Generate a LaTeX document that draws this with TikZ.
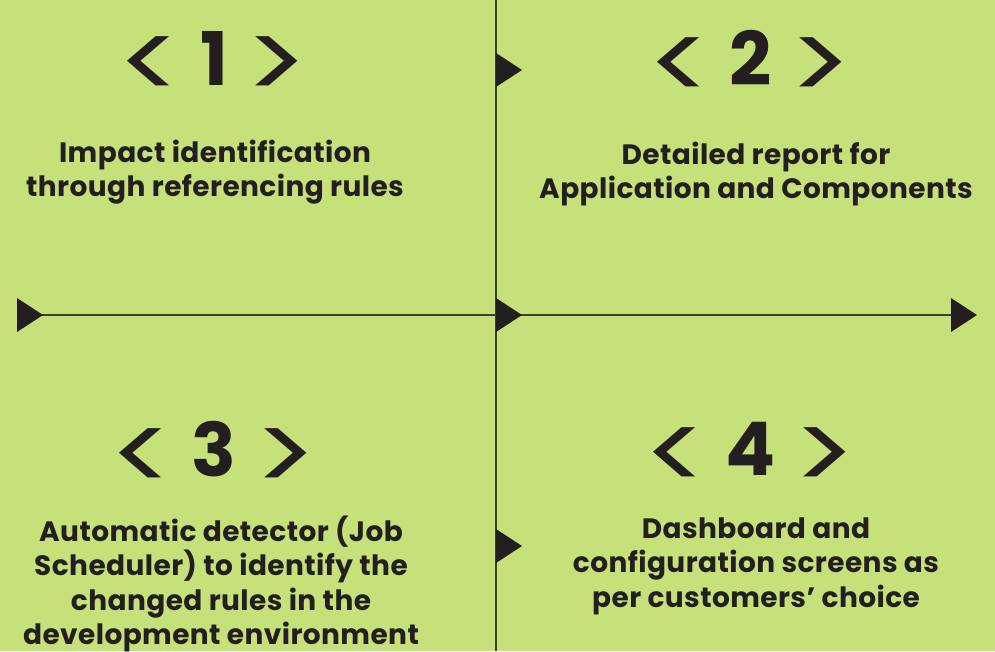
\documentclass[tikz,border=0pt]{standalone}
\usepackage{fontspec}
\usepackage{graphicx}
\setmainfont{Poppins}[LetterSpace = 1.5]
\definecolor{bgcol}{HTML}{C6E07A}
\definecolor{inkcol}{HTML}{231F20}
\definecolor{linecol}{HTML}{3C4226}
\newcommand{\chev}[1]{\raisebox{-0.21em}{\scalebox{1.6}[1.45]{\mdseries #1}}}
\tikzset{
	num/.style = {inner sep = 0, text = inkcol, font = \fontsize{74}{74}\selectfont\bfseries},
	desc/.style = {inner sep = 0, text = inkcol, align = center, font = \fontsize{28}{34.5}\selectfont\bfseries},
	rule/.style = {draw = linecol, line width = 2pt}
}
\begin{document}
\begin{tikzpicture}[x = 1pt, y = -1pt]
		% background
		\fill[bgcol] (0, 0) rectangle (995, 651);
		\useasboundingbox (0, 0) rectangle (995, 651);
		% axes
		\coordinate (top) at (496, 0);
		\coordinate (bottom) at (496, 651);
		\coordinate (start) at (30, 315);
		\coordinate (end) at (960, 315);
		\draw[rule] (top) -- (bottom);
		\draw[rule] (start) -- (end);
		% markers
		\foreach \x/\y in {17/315, 496/315, 951/315, 496/70, 496/546}
			\fill[inkcol] (\x, \y - 17) -- ++(26, 17) -- ++(-26, 17) -- cycle;
		% steps
		\node[num] (n1) at (213, 66) {\chev{<} 1 \chev{>}};
		\node[num] (n2) at (750, 66) {\chev{<} 2 \chev{>}};
		\node[num] (n3) at (213, 457) {\chev{<} 3 \chev{>}};
		\node[num] (n4) at (750, 457) {\chev{<} 4 \chev{>}};
		\node[desc] (d1) at (215, 172) {Impact identification\\through referencing rules};
		\node[desc] (d2) at (756, 174) {Detailed report for\\Application and Components};
		\node[desc] (d3) at (221, 584) {Automatic detector (Job\\Scheduler) to identify the\\changed rules in the\\development environment};
		\node[desc] (d4) at (756, 566) {Dashboard and\\configuration screens as\\per customers’ choice};
	\end{tikzpicture}
\end{document}
